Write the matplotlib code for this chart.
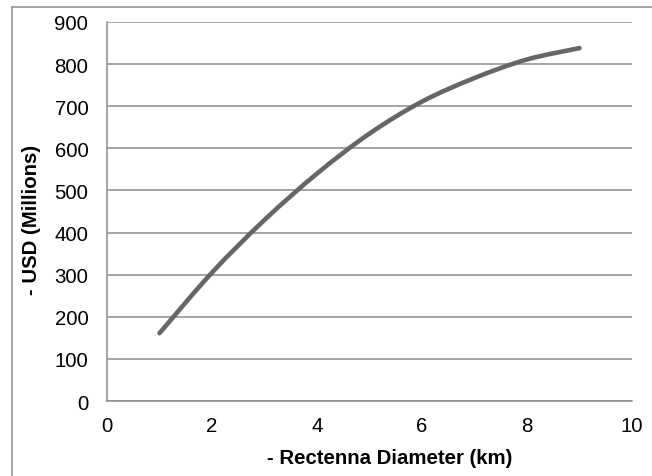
import numpy as np
import matplotlib.pyplot as plt
from matplotlib.path import Path
from matplotlib.patches import PathPatch
from matplotlib.lines import Line2D

# Values
diameter_km = [1, 2, 3, 4, 5, 6, 7, 8, 9]
cost_musd = [161, 305, 430, 540, 635, 711, 767, 811, 838]

x_ticks = [0, 2, 4, 6, 8, 10]
y_ticks = [0, 100, 200, 300, 400, 500, 600, 700, 800, 900]

grey = '#8c8c8c'
line_col = '#666666'
fs = 14.7

plt.rcParams['font.family'] = ['Liberation Sans', 'DejaVu Sans']

fig = plt.figure(figsize=(6.52, 4.77), dpi=100)
ax = fig.add_axes([107 / 652, 1 - 402 / 477, (632 - 107) / 652, (402 - 23) / 477])

# Excel-style smoothed line: Catmull-Rom segments as cubic Bezier
x = np.array(diameter_km, dtype=float)
y = np.array(cost_musd, dtype=float)
verts = [(x[0], y[0])]
codes = [Path.MOVETO]
for i in range(len(x) - 1):
    p0 = i - 1 if i > 0 else i
    p3 = i + 2 if i + 2 < len(x) else i + 1
    c1 = (x[i] + (x[i + 1] - x[p0]) / 6, y[i] + (y[i + 1] - y[p0]) / 6)
    c2 = (x[i + 1] - (x[p3] - x[i]) / 6, y[i + 1] - (y[p3] - y[i]) / 6)
    verts += [c1, c2, (x[i + 1], y[i + 1])]
    codes += [Path.CURVE4] * 3
ax.add_patch(PathPatch(Path(verts, codes), facecolor='none', edgecolor=line_col,
                       lw=3.3, capstyle='round', joinstyle='round', zorder=3))

ax.set_xlim(0, 10)
ax.set_ylim(0, 900)
ax.set_xticks(x_ticks)
ax.set_yticks(y_ticks)
ax.tick_params(length=0, labelsize=fs, colors='black')
ax.tick_params(axis='y', pad=13.5)
ax.tick_params(axis='x', pad=11)
ax.grid(axis='y', color=grey, lw=1.1)
ax.set_axisbelow(True)
for s in ['top', 'right']:
    ax.spines[s].set_visible(False)
for s in ['left', 'bottom']:
    ax.spines[s].set_color(grey)
    ax.spines[s].set_linewidth(1.1)

ax.set_xlabel('- Rectenna Diameter (km)', fontsize=fs, fontweight='bold')
ax.set_ylabel('- USD (Millions)', fontsize=fs, fontweight='bold')
ax.xaxis.set_label_coords((390 - 107) / 525, -(458 - 402) / 379)
ax.yaxis.set_label_coords(-(107 - 32) / 525, (402 - 220) / 379)
ax.xaxis.label.set_va('center')
ax.yaxis.label.set_va('center')

# chart area border (only top and left visible in the crop)
fig.add_artist(Line2D([12 / 652, 1], [1 - 8 / 477] * 2, color=grey, lw=1.1))
fig.add_artist(Line2D([12 / 652] * 2, [0, 1 - 8 / 477], color=grey, lw=1.1))

fig.savefig('out.png', dpi=100)
